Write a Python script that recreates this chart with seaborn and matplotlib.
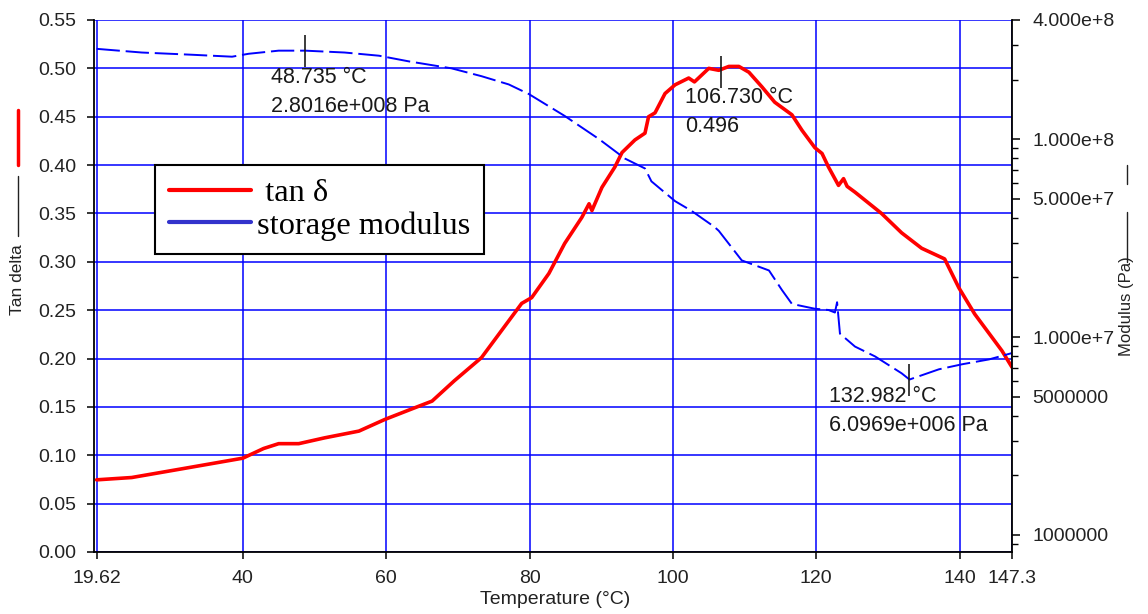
import numpy as np
import pandas as pd
import matplotlib
matplotlib.use("Agg")
import matplotlib.pyplot as plt
from matplotlib.lines import Line2D
from matplotlib.ticker import FixedLocator, FixedFormatter, LogLocator, NullFormatter
import seaborn as sns

# ---------------- data ----------------
temp_tan = [19.6, 24.5, 31.5, 40.0, 42.9, 45.0, 47.8, 51.4, 56.2, 59.8, 63.6, 66.4,
            69.5, 73.3, 76.1, 78.9, 80.3, 82.7, 84.9, 87.3, 88.3, 88.7, 90.1, 91.9,
            92.9, 94.7, 96.1, 96.6, 97.5, 98.9, 100.3, 102.2, 103.0, 105.0, 106.4,
            107.8, 109.2, 110.6, 112.4, 114.2, 116.6, 118.0, 119.8, 120.8, 121.7,
            123.1, 123.8, 124.3, 125.4, 129.1, 131.9, 134.7, 137.9, 139.9, 142.1,
            144.1, 145.9, 147.3]
tan_delta = [0.0746, 0.077, 0.086, 0.097, 0.107, 0.112, 0.112, 0.118, 0.125, 0.137, 0.148, 0.156,
             0.177, 0.201, 0.229, 0.257, 0.263, 0.288, 0.319, 0.346, 0.360, 0.353, 0.377, 0.398,
             0.413, 0.426, 0.433, 0.450, 0.454, 0.474, 0.483, 0.490, 0.486, 0.500, 0.498,
             0.502, 0.502, 0.496, 0.481, 0.465, 0.452, 0.436, 0.418, 0.412, 0.398,
             0.379, 0.386, 0.378, 0.372, 0.350, 0.330, 0.314, 0.303, 0.273, 0.246,
             0.226, 0.208, 0.191]

temp_mod = [19.6, 25.9, 32.9, 38.5, 40.8, 45.0, 48.7, 54.2, 59.0, 63.2, 69.1, 73.3,
            77.1, 79.9, 84.9, 89.7, 93.3, 96.1, 97.0, 100.3, 102.6, 105.8, 106.4,
            109.6, 113.4, 115.2, 116.6, 119.8, 121.7, 122.6, 122.9, 123.3, 125.4,
            128.2, 131.9, 133.0, 137.1, 140.3, 144.1, 147.3]
modulus = [2.86e8, 2.74e8, 2.67e8, 2.61e8, 2.70e8, 2.80e8, 2.80e8, 2.74e8, 2.64e8, 2.47e8, 2.28e8, 2.08e8,
           1.89e8, 1.69e8, 1.31e8, 1.00e8, 7.98e7, 7.11e7, 6.12e7, 4.86e7, 4.34e7, 3.6e7, 3.44e7,
           2.44e7, 2.17e7, 1.73e7, 1.47e7, 1.39e7, 1.37e7, 1.33e7, 1.50e7, 1.04e7, 8.95e6,
           7.98e6, 6.56e6, 6.10e6, 6.87e6, 7.28e6, 7.71e6, 8.3e6]

x_ticks = [19.62, 40, 60, 80, 100, 120, 140, 147.3]
x_ticklabels = ["19.62", "40", "60", "80", "100", "120", "140", "147.3"]
y_ticks = [0.00, 0.05, 0.10, 0.15, 0.20, 0.25, 0.30, 0.35, 0.40, 0.45, 0.50, 0.55]
mod_ticks = [1e6, 5e6, 1e7, 5e7, 1e8, 4e8]
mod_ticklabels = ["1000000", "5000000", "1.000e+7", "5.000e+7", "1.000e+8", "4.000e+8"]

ann_modmax_T, ann_modmax_E = 48.735, 2.8016e8
ann_tanmax_T, ann_tanmax_v = 106.730, 0.496
ann_modmin_T, ann_modmin_E = 132.982, 6.0969e6

legend_labels = [" tan \u03b4", "storage modulus"]

# ---------------- style ----------------
sns.set_theme(style="white")
plt.rcParams['font.family'] = ['Liberation Sans', 'DejaVu Sans']

W, H = 1148, 614
fig = plt.figure(figsize=(W / 100, H / 100), dpi=100)
ax = fig.add_axes([94 / W, 62 / H, 918 / W, 532 / H])

df_tan = pd.DataFrame({"T": temp_tan, "tan": tan_delta})
df_mod = pd.DataFrame({"T": temp_mod, "E": modulus})

sns.lineplot(data=df_tan, x="T", y="tan", ax=ax, color="#ff0000", linewidth=2.6,
             estimator=None, sort=False, zorder=3)
ax.set_xlim(19.24, 147.3)
ax.set_ylim(0, 0.55)
ax.set_xticks(x_ticks)
ax.set_xticklabels(x_ticklabels)
ax.set_yticks(y_ticks)
ax.set_yticklabels([f"{v:.2f}" for v in y_ticks])
ax.grid(True, color="#0000ff", linewidth=1.1)
ax.set_axisbelow(True)
ax.set_xlabel("")
ax.set_ylabel("")
for s in ["top", "right"]:
    ax.spines[s].set_visible(False)
for s in ["left", "bottom"]:
    ax.spines[s].set_color("black")
    ax.spines[s].set_linewidth(1.3)
ax.tick_params(axis="both", which="major", bottom=True, left=True, direction="out",
               length=5, width=1.1, color="black", labelsize=14, labelcolor="#222222")
ax.tick_params(axis="y", pad=7.5)
ax.tick_params(axis="x", pad=8)

ax2 = ax.twinx()
ax2.set_yscale("log")
sns.lineplot(data=df_mod, x="T", y="E", ax=ax2, color="#0000ff", linewidth=1.4,
             linestyle=(0, (12, 3)), estimator=None, sort=False)
ax2.set_ylim(8.2e5, 4e8)
ax2.set_xlim(19.24, 147.3)
ax2.yaxis.set_major_locator(FixedLocator(mod_ticks))
ax2.yaxis.set_major_formatter(FixedFormatter(mod_ticklabels))
ax2.yaxis.set_minor_locator(LogLocator(base=10, subs=np.arange(2, 10)))
ax2.yaxis.set_minor_formatter(NullFormatter())
ax2.set_ylabel("")
ax2.set_xlabel("")
for s in ["top", "left", "bottom"]:
    ax2.spines[s].set_visible(False)
ax2.spines["right"].set_color("black")
ax2.spines["right"].set_linewidth(1.3)
ax2.tick_params(axis="y", which="major", right=True, direction="out", length=6, width=1.1,
                color="black", labelsize=14, labelcolor="#222222", pad=8.5)
ax2.tick_params(axis="y", which="minor", right=True, direction="out", length=4, width=1.0,
                color="black")
ax2.grid(False)

# ---------------- annotations ----------------
txt_kw = dict(textcoords="offset pixels", ha="left", va="top", fontsize=15.5,
              color="#1a1a1a", linespacing=1.5)
ax2.plot([ann_modmax_T], [ann_modmax_E], marker="|", ms=23, mew=1.2, color="#1a1a1a")
ax2.annotate(f"{ann_modmax_T:.3f} \u00b0C\n2.8016e+008 Pa", xy=(ann_modmax_T, ann_modmax_E),
             xytext=(-34, -16), **txt_kw)
ax.plot([ann_tanmax_T], [ann_tanmax_v], marker="|", ms=23, mew=1.2, color="#1a1a1a", zorder=4)
ax.annotate(f"{ann_tanmax_T:.3f} \u00b0C\n{ann_tanmax_v:.3f}", xy=(ann_tanmax_T, ann_tanmax_v),
            xytext=(-36, -15), **txt_kw)
ax2.plot([ann_modmin_T], [ann_modmin_E], marker="|", ms=23, mew=1.2, color="#1a1a1a")
ax2.annotate(f"{ann_modmin_T:.3f} \u00b0C\n6.0969e+006 Pa", xy=(ann_modmin_T, ann_modmin_E),
             xytext=(-80, -6), **txt_kw)

# ---------------- legend ----------------
handles = [Line2D([], [], color="#ff0000", lw=3), Line2D([], [], color="#3333cc", lw=3)]
leg = ax2.legend(handles, legend_labels, loc="upper left", bbox_to_anchor=(0.0665, 0.727),
                 prop={"family": "Liberation Serif", "size": 23.3}, frameon=True, fancybox=False,
                 edgecolor="black", framealpha=1, handlelength=2.55, borderaxespad=0,
                 borderpad=0.42, labelspacing=0.08, handletextpad=0.18)
leg.get_frame().set_linewidth(1.5)
for t in leg.get_texts():
    t.set_color("black")

# ---------------- axis titles ----------------
fig.text(555 / W, 1 - 600 / H, "Temperature (\u00b0C)", ha="center", va="center",
         fontsize=14, color="#222222")
fig.text(18 / W, 1 - 280 / H, "Tan delta", rotation=90, ha="center", va="center",
         fontsize=12.5, color="#222222")
fig.add_artist(Line2D([18 / W, 18 / W], [1 - 176 / H, 1 - 236 / H], color="#222222",
                      lw=1.0, transform=fig.transFigure))
fig.add_artist(Line2D([18 / W, 18 / W], [1 - 110 / H, 1 - 165 / H], color="#ff0000",
                      lw=2.5, transform=fig.transFigure))
fig.text(1127 / W, 1 - 306 / H, "Modulus (Pa)", rotation=90, ha="center", va="center",
         fontsize=12, color="#222222")
fig.add_artist(Line2D([1127 / W, 1127 / W], [1 - 212 / H, 1 - 262 / H], color="#222222",
                      lw=1.0, transform=fig.transFigure))
fig.add_artist(Line2D([1127 / W, 1127 / W], [1 - 165 / H, 1 - 184 / H], color="#222222",
                      lw=1.0, transform=fig.transFigure))

fig.savefig("out.png", dpi=100)
